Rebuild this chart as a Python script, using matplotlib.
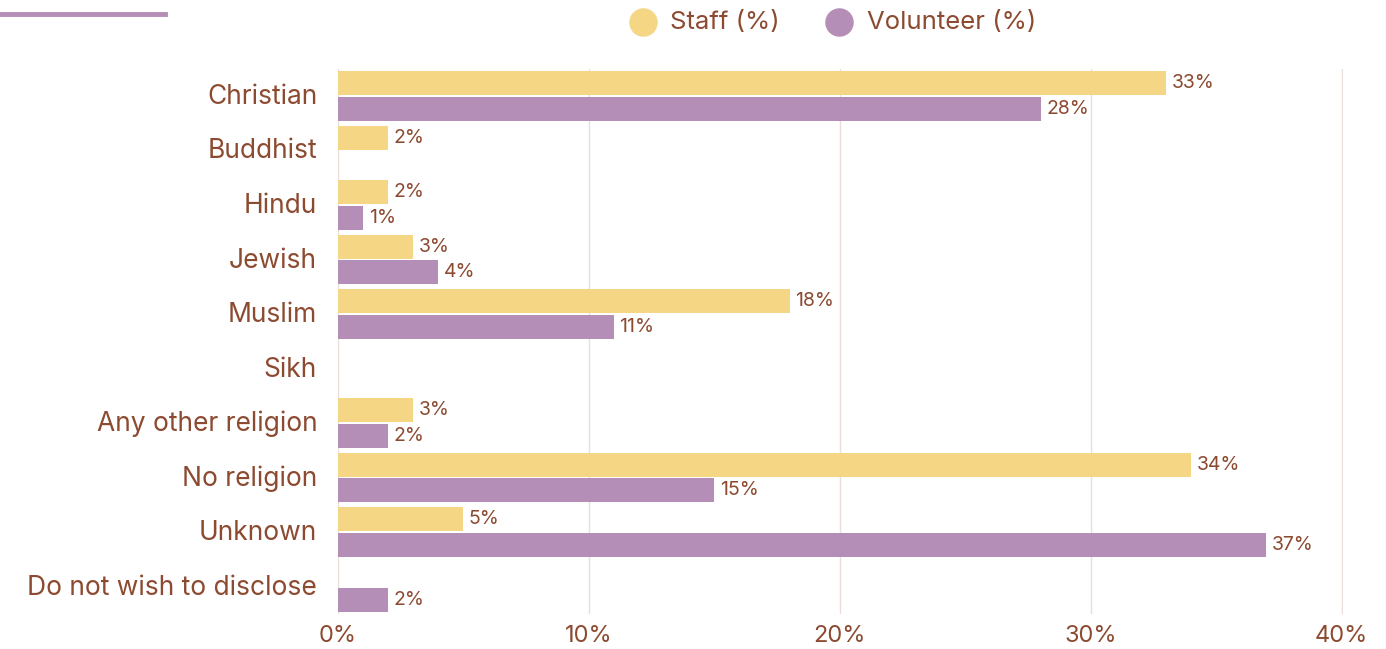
import matplotlib
matplotlib.use("Agg")
import matplotlib.pyplot as plt
import matplotlib.transforms as mtransforms
from matplotlib.lines import Line2D
import numpy as np

categories = ["Christian", "Buddhist", "Hindu", "Jewish", "Muslim", "Sikh",
              "Any other religion", "No religion", "Unknown", "Do not wish to disclose"]
staff = [33, 2, 2, 3, 18, 0, 3, 34, 5, 0]
volunteer = [28, 0, 1, 4, 11, 0, 2, 15, 37, 2]
xticks = [0, 10, 20, 30, 40]
xticklabels = ["0%", "10%", "20%", "30%", "40%"]
series_names = ["Staff (%)", "Volunteer (%)"]

STAFF_C = "#F5D685"
VOL_C = "#B48EB7"
TEXT_C = "#8C4A30"
GRID_C = "#E9DEDA"

plt.rcParams['font.family'] = ['Inter', 'DejaVu Sans']

W, H = 1386, 649
fig = plt.figure(figsize=(W/100, H/100), dpi=100)
ax = fig.add_axes([338/W, 1-614/H, (1343-338)/W, (614-68.7)/H])

y = np.arange(len(categories))
h = 0.44
off = 0.235
b1 = ax.barh(y - off, staff, height=h, color=STAFF_C, zorder=3)
b2 = ax.barh(y + off, volunteer, height=h, color=VOL_C, zorder=3)

for bars, vals in ((b1, staff), (b2, volunteer)):
    for bar, v in zip(bars, vals):
        if v > 0:
            ax.text(v + 0.22, bar.get_y() + bar.get_height()/2, f"{v}%",
                    va="center", ha="left", fontsize=14, color=TEXT_C)

ax.set_ylim(len(categories) - 0.5, -0.5)
ax.set_xlim(0, 40.05)
ax.set_yticks(y)
ax.set_yticklabels(categories, fontsize=19, color=TEXT_C)
ax.set_xticks(xticks)
ax.set_xticklabels(xticklabels, fontsize=17, color=TEXT_C)
ax.tick_params(axis="x", length=0, pad=8)
ax.tick_params(axis="y", length=0, pad=15)
ax.grid(axis="x", color=GRID_C, linewidth=1, zorder=0)
for s in ax.spines.values():
    s.set_visible(False)

shift = mtransforms.ScaledTranslation(0, 2/100, fig.dpi_scale_trans)
for lbl in ax.get_yticklabels():
    lbl.set_transform(lbl.get_transform() + shift)

# decorative top-left line
fig.add_artist(Line2D([0, 165/W], [1-13.5/H, 1-13.5/H], color=VOL_C, linewidth=3.5))

# legend (manual placement)
for cx, tx, color, name in ((643, 670, STAFF_C, series_names[0]),
                            (839, 867, VOL_C, series_names[1])):
    fig.add_artist(Line2D([cx/W], [1-22/H], marker="o", linestyle="", markersize=19.5,
                          color=color))
    fig.text(tx/W, 1-22/H, name, fontsize=18.5, color=TEXT_C, va="center", ha="left")

fig.savefig("out.png", dpi=100)
